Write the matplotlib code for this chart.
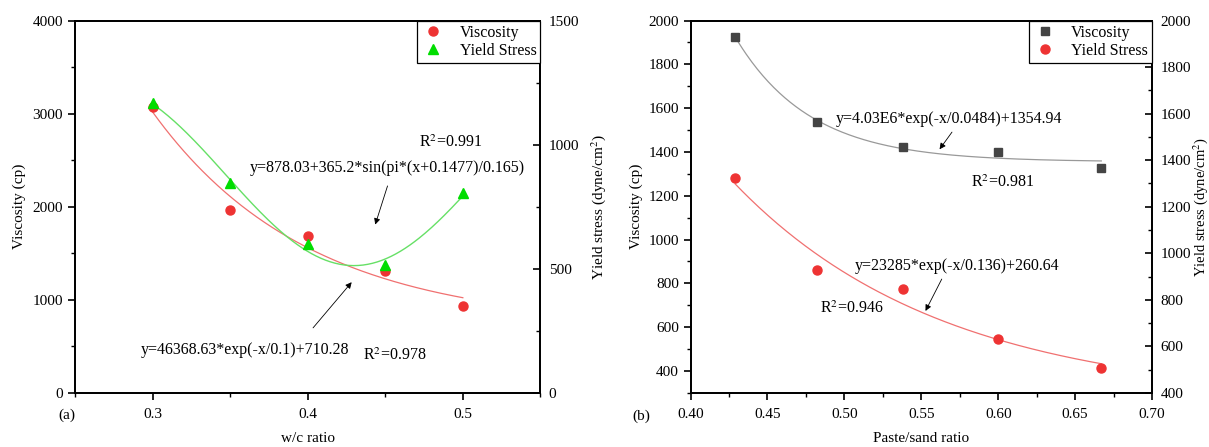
import numpy as np
import matplotlib.pyplot as plt
from matplotlib.ticker import MultipleLocator
from matplotlib.lines import Line2D

plt.rcParams['font.family'] = ['Liberation Serif', 'DejaVu Serif']
plt.rcParams['font.size'] = 11
plt.rcParams['mathtext.fontset'] = 'stix'

# ---------------------------------------------------------------------------
# data, panel (a): w/c ratio
# ---------------------------------------------------------------------------
wc = [0.30, 0.35, 0.40, 0.45, 0.50]
visc_a = [3070, 1960, 1690, 1310, 930]          # cp
yield_a = [1166, 844, 600, 514, 806]           # dyne/cm2

# fitted curves as printed on the chart
exp_a = [46368.63, 0.1, 710.28]                # y = A*exp(-x/t)+y0
sin_a = [878.03, 365.2, 0.1477, 0.165]         # y = y0 + A*sin(pi*(x+xc)/w)

# ---------------------------------------------------------------------------
# data, panel (b): paste/sand ratio
# ---------------------------------------------------------------------------
ps = [0.429, 0.482, 0.538, 0.600, 0.667]
visc_b = [1925, 1535, 1425, 1400, 1328]
yield_b = [1282, 860, 775, 548, 413]

exp_b_visc = [4.03e6, 0.0484, 1354.94]
exp_b_yield = [23285, 0.136, 260.64]

RED = '#ee3333'
GREEN = '#00dd00'
GRAY = '#444444'
ANN = 11.5


def style_axes(ax, ax2):
    for a in (ax, ax2):
        for s in a.spines.values():
            s.set_linewidth(1.3)
    ax.tick_params(axis='both', which='major', direction='out', length=5, width=1.2)
    ax.tick_params(axis='both', which='minor', direction='out', length=3, width=1.0)
    ax.tick_params(axis='x', pad=6)
    ax2.tick_params(axis='y', which='major', direction='in', length=5, width=1.2, pad=6)
    ax2.tick_params(axis='y', which='minor', direction='in', length=3, width=1.0)


fig = plt.figure(figsize=(12.09, 4.47), dpi=100)

# ============================================================================
# (a)
# ============================================================================
ax = fig.add_axes([0.062, 0.121, 0.385, 0.833])
ax2 = ax.twinx()

xa = np.linspace(wc[0], wc[-1], 200)
ax.plot(xa, exp_a[0] * np.exp(-xa / exp_a[1]) + exp_a[2], color='#f07070', lw=0.9)
ax.plot(wc, visc_a, 'o', color=RED, ms=6.5, zorder=3)
ax2.plot(xa, sin_a[0] + sin_a[1] * np.sin(np.pi * (xa + sin_a[2]) / sin_a[3]),
         color='#66e066', lw=1.0)
ax2.plot(wc, yield_a, '^', color=GREEN, ms=7, zorder=3)

ax.set_xlim(0.25, 0.55)
ax.set_ylim(0, 4000)
ax2.set_ylim(0, 1500)
ax.xaxis.set_major_locator(MultipleLocator(0.1))
ax.xaxis.set_minor_locator(MultipleLocator(0.05))
ax.yaxis.set_major_locator(MultipleLocator(1000))
ax.yaxis.set_minor_locator(MultipleLocator(500))
ax2.yaxis.set_major_locator(MultipleLocator(500))
ax2.yaxis.set_minor_locator(MultipleLocator(250))
ax.xaxis.set_major_formatter(lambda v, p: f'{v:.1f}')
style_axes(ax, ax2)

ax.set_xlabel('w/c ratio', labelpad=8)
ax.set_ylabel('Viscosity (cp)', labelpad=5)
ax2.set_ylabel('Yield stress (dyne/cm$^2$)', labelpad=7)

ax.text(0.4715, 2692, 'R$^2$=0.991', ha='left', va='center', fontsize=ANN)
ax.text(0.4515, 2413, 'y=878.03+365.2*sin(pi*(x+0.1477)/0.165)', ha='center', va='center',
        fontsize=ANN)
ax.annotate('', xy=(0.443, 1780), xytext=(0.452, 2252),
            arrowprops=dict(arrowstyle='-|>', color='k', lw=0.6, mutation_scale=9))
ax.text(0.3595, 461, 'y=46368.63*exp(-x/0.1)+710.28', ha='center', va='center', fontsize=ANN)
ax.text(0.456, 397, 'R$^2$=0.978', ha='center', va='center', fontsize=ANN)
ax.annotate('', xy=(0.4295, 1212), xytext=(0.4023, 676),
            arrowprops=dict(arrowstyle='-|>', color='k', lw=0.6, mutation_scale=9))

handles = [Line2D([], [], ls='none', marker='o', color=RED, ms=6.5),
           Line2D([], [], ls='none', marker='^', color=GREEN, ms=7)]
leg = ax2.legend(handles, ['Viscosity', 'Yield Stress'], loc='upper right', fontsize=11.5,
                 borderaxespad=0, fancybox=False, edgecolor='k', framealpha=1,
                 handletextpad=0.9, borderpad=0.25, labelspacing=0.15, handlelength=1.5)
leg.get_frame().set_linewidth(0.9)
fig.text(67 / 1209, 1 - 415 / 447, '(a)', ha='center', va='center')

# ============================================================================
# (b)
# ============================================================================
bx = fig.add_axes([0.5712, 0.121, 0.3817, 0.833])
bx2 = bx.twinx()

xb = np.linspace(ps[0], ps[-1], 200)
bx.plot(xb, exp_b_visc[0] * np.exp(-xb / exp_b_visc[1]) + exp_b_visc[2], color='#999999', lw=0.9)
bx.plot(xb, exp_b_yield[0] * np.exp(-xb / exp_b_yield[1]) + exp_b_yield[2], color='#f07070', lw=0.9)
bx.plot(ps, visc_b, 's', color=GRAY, ms=5.5, zorder=3)
bx.plot(ps, yield_b, 'o', color=RED, ms=6.5, zorder=3)

bx.set_xlim(0.40, 0.70)
bx.set_ylim(300, 2000)
bx2.set_ylim(400, 2000)
bx.xaxis.set_major_locator(MultipleLocator(0.05))
bx.xaxis.set_minor_locator(MultipleLocator(0.025))
bx.yaxis.set_major_locator(MultipleLocator(200))
bx.yaxis.set_minor_locator(MultipleLocator(100))
bx2.yaxis.set_major_locator(MultipleLocator(200))
bx2.yaxis.set_minor_locator(MultipleLocator(100))
bx.xaxis.set_major_formatter(lambda v, p: f'{v:.2f}')
bx.set_yticks([400, 600, 800, 1000, 1200, 1400, 1600, 1800, 2000])
style_axes(bx, bx2)

bx.set_xlabel('Paste/sand ratio', labelpad=8)
bx.set_ylabel('Viscosity (cp)', labelpad=4)
bx2.set_ylabel('Yield stress (dyne/cm$^2$)', labelpad=0, fontsize=10.5)

bx.text(0.5683, 1551, 'y=4.03E6*exp(-x/0.0484)+1354.94', ha='center', va='center', fontsize=ANN)
bx.annotate('', xy=(0.5608, 1402), xytext=(0.571, 1501),
            arrowprops=dict(arrowstyle='-|>', color='k', lw=0.6, mutation_scale=9))
bx.text(0.6031, 1260, 'R$^2$=0.981', ha='center', va='center', fontsize=ANN)
bx.text(0.5732, 881, 'y=23285*exp(-x/0.136)+260.64', ha='center', va='center', fontsize=ANN)
bx.annotate('', xy=(0.5519, 663), xytext=(0.5641, 831),
            arrowprops=dict(arrowstyle='-|>', color='k', lw=0.6, mutation_scale=9))
bx.text(0.5049, 686, 'R$^2$=0.946', ha='center', va='center', fontsize=ANN)

handles = [Line2D([], [], ls='none', marker='s', color=GRAY, ms=5.5),
           Line2D([], [], ls='none', marker='o', color=RED, ms=6.5)]
leg = bx2.legend(handles, ['Viscosity', 'Yield Stress'], loc='upper right', fontsize=11.5,
                 borderaxespad=0, fancybox=False, edgecolor='k', framealpha=1,
                 handletextpad=0.9, borderpad=0.25, labelspacing=0.15, handlelength=1.5)
leg.get_frame().set_linewidth(0.9)
fig.text(641 / 1209, 1 - 416 / 447, '(b)', ha='center', va='center')

fig.savefig('out.png', dpi=100)
